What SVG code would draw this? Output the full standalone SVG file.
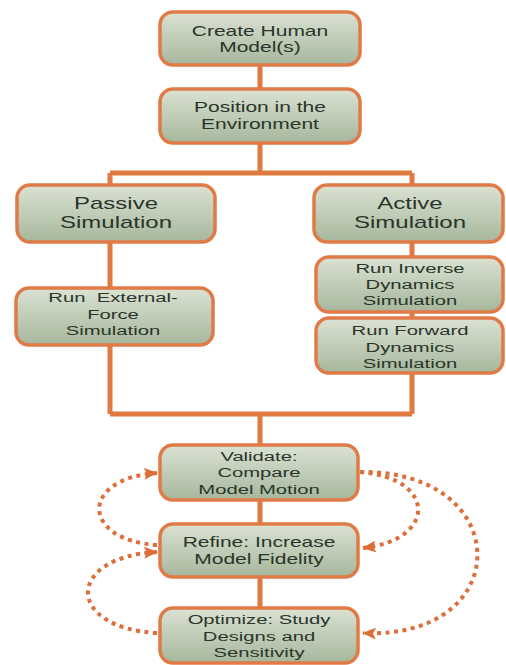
<svg xmlns="http://www.w3.org/2000/svg" width="506" height="665" viewBox="0 0 506 665">
<defs>
<linearGradient id="bg" x1="0" y1="0" x2="0" y2="1">
<stop offset="0" stop-color="#dbe2d3"/>
<stop offset="1" stop-color="#a6b79c"/>
</linearGradient>
<marker id="ah" markerUnits="userSpaceOnUse" markerWidth="14" markerHeight="12" refX="13" refY="6" orient="auto">
<path d="M0,0 L14,6 L0,12 L3,6 z" fill="#dc6f37"/>
</marker>
</defs>
<style>
.box{fill:url(#bg);stroke:#e07a46;stroke-width:3.5}
.t{font-family:"Liberation Sans",Arial,sans-serif;font-size:14px;fill:#2a352a;text-anchor:middle}
.t3{font-size:13.5px}
.tb{font-size:16px}
.con{fill:none;stroke:#e07a40;stroke-width:5}
.dash{fill:none;stroke:#dc6f3c;stroke-width:4;stroke-dasharray:4 4.5}
</style>
<rect width="506" height="665" fill="#ffffff"/>
<g id="connectors">
<path class="con" d="M260 65V89M260 143V173M110 173H412M110 173V185M412 173V185M110 242V288M110 345V414M412 242V257M412 312V318M412 373V414M110 414H412M260 414V445M260 500V524M260 577V608"/>
<path class="dash" d="M360 472 C437 478, 437 540, 363 548" marker-end="url(#ah)"/>
<path class="dash" d="M360 472 C516 470, 516 640, 363 633" marker-end="url(#ah)"/>
<path class="dash" d="M157 545 C80 540, 80 478, 157 473" marker-end="url(#ah)"/>
<path class="dash" d="M157 633 C65 628, 65 557, 157 552" marker-end="url(#ah)"/>
</g>
<g id="create">
<rect class="box" x="160" y="12" width="200" height="53" rx="13"/>
<g transform="translate(260,0) scale(1.5,1)"><text class="t" x="0" y="36">Create Human</text><text class="t" x="0" y="52">Model(s)</text></g>
</g>
<g id="position">
<rect class="box" x="160" y="89" width="200" height="54" rx="13"/>
<g transform="translate(260,0) scale(1.5,1)"><text class="t" x="0" y="112">Position in the</text><text class="t" x="0" y="129">Environment</text></g>
</g>
<g id="passive">
<rect class="box" x="17" y="185" width="198" height="57" rx="13"/>
<g transform="translate(116,0) scale(1.5,1)"><text class="t tb" x="0" y="209">Passive</text><text class="t tb" x="0" y="228">Simulation</text></g>
</g>
<g id="active">
<rect class="box" x="314" y="185" width="189" height="57" rx="13"/>
<g transform="translate(410,0) scale(1.5,1)"><text class="t tb" x="0" y="209">Active</text><text class="t tb" x="0" y="228">Simulation</text></g>
</g>
<g id="external">
<rect class="box" x="16" y="288" width="197" height="57" rx="13"/>
<g transform="translate(113,0) scale(1.5,1)"><text class="t t3" x="0" y="302" xml:space="preserve">Run  External-</text><text class="t t3" x="0" y="319">Force</text><text class="t t3" x="0" y="335">Simulation</text></g>
</g>
<g id="inverse">
<rect class="box" x="316" y="257" width="187" height="55" rx="13"/>
<g transform="translate(410,0) scale(1.5,1)"><text class="t t3" x="0" y="273">Run Inverse</text><text class="t t3" x="0" y="289">Dynamics</text><text class="t t3" x="0" y="305">Simulation</text></g>
</g>
<g id="forward">
<rect class="box" x="316" y="318" width="187" height="55" rx="13"/>
<g transform="translate(410,0) scale(1.5,1)"><text class="t t3" x="0" y="335">Run Forward</text><text class="t t3" x="0" y="352">Dynamics</text><text class="t t3" x="0" y="368">Simulation</text></g>
</g>
<g id="validate">
<rect class="box" x="160" y="445" width="198" height="55" rx="13"/>
<g transform="translate(259,0) scale(1.5,1)"><text class="t t3" x="0" y="461">Validate:</text><text class="t t3" x="0" y="477">Compare</text><text class="t t3" x="0" y="494">Model Motion</text></g>
</g>
<g id="refine">
<rect class="box" x="160" y="524" width="198" height="53" rx="13"/>
<g transform="translate(259,0) scale(1.5,1)"><text class="t" x="0" y="547">Refine: Increase</text><text class="t" x="0" y="564">Model Fidelity</text></g>
</g>
<g id="optimize">
<rect class="box" x="160" y="608" width="198" height="55" rx="13"/>
<g transform="translate(259,0) scale(1.5,1)"><text class="t t3" x="0" y="624">Optimize: Study</text><text class="t t3" x="0" y="641">Designs and</text><text class="t t3" x="0" y="657">Sensitivity</text></g>
</g>
</svg>
